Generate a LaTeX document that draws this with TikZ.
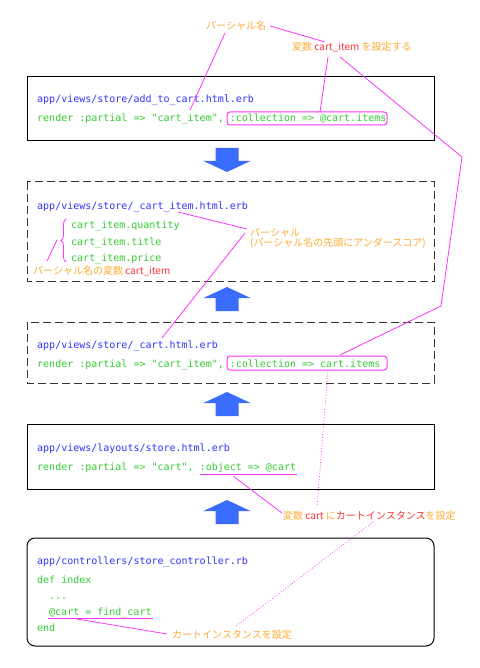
\documentclass[tikz,border=0pt]{standalone}
\usepackage{fontspec}
\setmonofont{DejaVu Sans Mono}
\newfontfamily\jp{Noto Sans CJK JP}
\usetikzlibrary{decorations.pathreplacing}
\definecolor{codeblue}{HTML}{3333FF}
\definecolor{codegreen}{HTML}{33CC33}
\definecolor{lblorange}{HTML}{FFAA33}
\definecolor{lblred}{HTML}{FF3333}
\definecolor{mag}{HTML}{FF33FF}
\definecolor{arrowblue}{HTML}{3A6CFF}
\definecolor{dashgray}{HTML}{333333}
\tikzset{
  code/.style={font=\ttfamily\fontsize{10}{12}\selectfont, anchor=base west, inner sep=0pt},
  path/.style={code, text=codeblue},
  src/.style={code, text=codegreen},
  lbl/.style={font=\jp\fontsize{10}{12}\selectfont, anchor=base west, inner sep=0pt, text=lblorange},
  solidbox/.style={draw=black, line width=1pt},
  dashbox/.style={draw=dashgray, line width=1pt, dash pattern=on 8pt off 4pt},
  roundbox/.style={draw=black, line width=1pt, rounded corners=8pt},
  hilite/.style={draw=mag, line width=1pt, rounded corners=3pt},
  pointer/.style={draw=mag, line width=0.8pt},
  dotpointer/.style={draw=mag, line width=0.8pt, dotted},
  uparrow/.pic={\fill[arrowblue] (0,-12) -- (23.5,-1) -- (11.5,-1) -- (11.5,12) -- (-11.5,12) -- (-11.5,-1) -- (-23.5,-1) -- cycle;},
  downarrow/.pic={\fill[arrowblue] (0,12) -- (23.5,1) -- (11.5,1) -- (11.5,-12) -- (-11.5,-12) -- (-11.5,1) -- (-23.5,1) -- cycle;}
}
\begin{document}
\begin{tikzpicture}[x=1pt,y=-1pt]
\useasboundingbox[fill=white] (0,0) rectangle (479,668);

% boxes
\draw[solidbox] (27,77) rectangle (434,141);
\draw[dashbox] (27,182) rectangle (434,281);
\draw[dashbox] (27,322) rectangle (434,383);
\draw[solidbox] (27,424) rectangle (434,489);
\draw[roundbox] (27,538) rectangle (434,646);

% arrows
\pic at (227,160) {downarrow};
\pic at (227,299) {uparrow};
\pic at (227,404) {uparrow};
\pic at (227,512) {uparrow};

% box 1
\node[path] (f1) at (37,103) {app/views/store/add\_to\_cart.html.erb};
\node[src] (r1) at (37,122) {render :partial => "cart\_item", :collection => @cart.items};
\draw[hilite] (227,112) rectangle (387,125);

% box 2
\node[path] (f2) at (37,209) {app/views/store/\_cart\_item.html.erb};
\node[src] (q2) at (71,228) {cart\_item.quantity};
\node[src] (t2) at (71,245) {cart\_item.title};
\node[src] (p2) at (71,261) {cart\_item.price};
\coordinate (brB) at (66,262);
\coordinate (brT) at (66,219);
\draw[mag, line width=0.8pt, decorate, decoration={brace, amplitude=5pt}] (brB) -- (brT);

% box 3
\node[path] (f3) at (37,348) {app/views/store/\_cart.html.erb};
\node[src] (r3) at (37,367) {render :partial => "cart\_item", :collection => cart.items};
\draw[hilite] (227,356) rectangle (387,370);

% box 4
\node[path] (f4) at (37,451) {app/views/layouts/store.html.erb};
\node[src] (r4) at (37,470) {render :partial => "cart", :object => @cart};
\coordinate (u4a) at (200,474);
\coordinate (u4b) at (297,474);
\draw[pointer] (u4a) -- (u4b);

% box 5
\node[path] (f5) at (37,564) {app/controllers/store\_controller.rb};
\node[src] (d5) at (37,583) {def index};
\node[src] (e5) at (49,599) {...};
\node[src] (c5) at (49,615) {@cart = find\_cart};
\node[src] (n5) at (37,631) {end};
\coordinate (u5a) at (48,618);
\coordinate (u5b) at (153,618);
\draw[pointer] (u5a) -- (u5b);

% labels
\node[lbl] (lpn) at (206,30) {パーシャル名};
\node[lbl] (lset) at (292,51) {変数 \textcolor{lblred}{cart\_item} を設定する};
\node[lbl] (lpa1) at (250,236) {パーシャル};
\node[lbl] (lpa2) at (250,246) {(パーシャル名の先頭にアンダースコア)};
\node[lbl] (lvar) at (33,274) {パーシャル名の変数 \textcolor{lblred}{cart\_item}};
\node[lbl] (lcart) at (283,519) {変数 \textcolor{lblred}{cart} に\textcolor{lblred}{カートインスタンス}を設定};
\node[lbl] (linst) at (172,638) {カートインスタンスを設定};

% connector end points
\coordinate (a1) at (225,33);  \coordinate (a2) at (190,110);
\coordinate (b1) at (270,26);  \coordinate (b2) at (325,42);
\coordinate (c1) at (328,57);  \coordinate (c2) at (320,112);
\coordinate (d1) at (340,57);  \coordinate (d2) at (462,157);
\coordinate (d3) at (441,306); \coordinate (d4) at (340,355);
\coordinate (e1) at (178,212); \coordinate (e2) at (247,229);
\coordinate (g1) at (245,233); \coordinate (g2) at (162,338);
\coordinate (h1) at (57,240);  \coordinate (h2) at (47,261);
\coordinate (k1) at (328,370); \coordinate (k2) at (317,507);
\coordinate (m1) at (233,476); \coordinate (m2) at (282,513);
\coordinate (p1) at (373,522); \coordinate (p2) at (235,627);
\coordinate (s1) at (77,619);  \coordinate (s2) at (167,634);

\draw[pointer] (a1) -- (a2);
\draw[pointer] (b1) -- (b2);
\draw[pointer] (c1) -- (c2);
\draw[pointer] (d1) -- (d2) -- (d3) -- (d4);
\draw[pointer] (e1) -- (e2);
\draw[pointer] (g1) -- (g2);
\draw[pointer] (h1) -- (h2);
\draw[dotpointer] (k1) -- (k2);
\draw[pointer] (m1) -- (m2);
\draw[dotpointer] (p1) -- (p2);
\draw[pointer] (s1) -- (s2);
\end{tikzpicture}
\end{document}
